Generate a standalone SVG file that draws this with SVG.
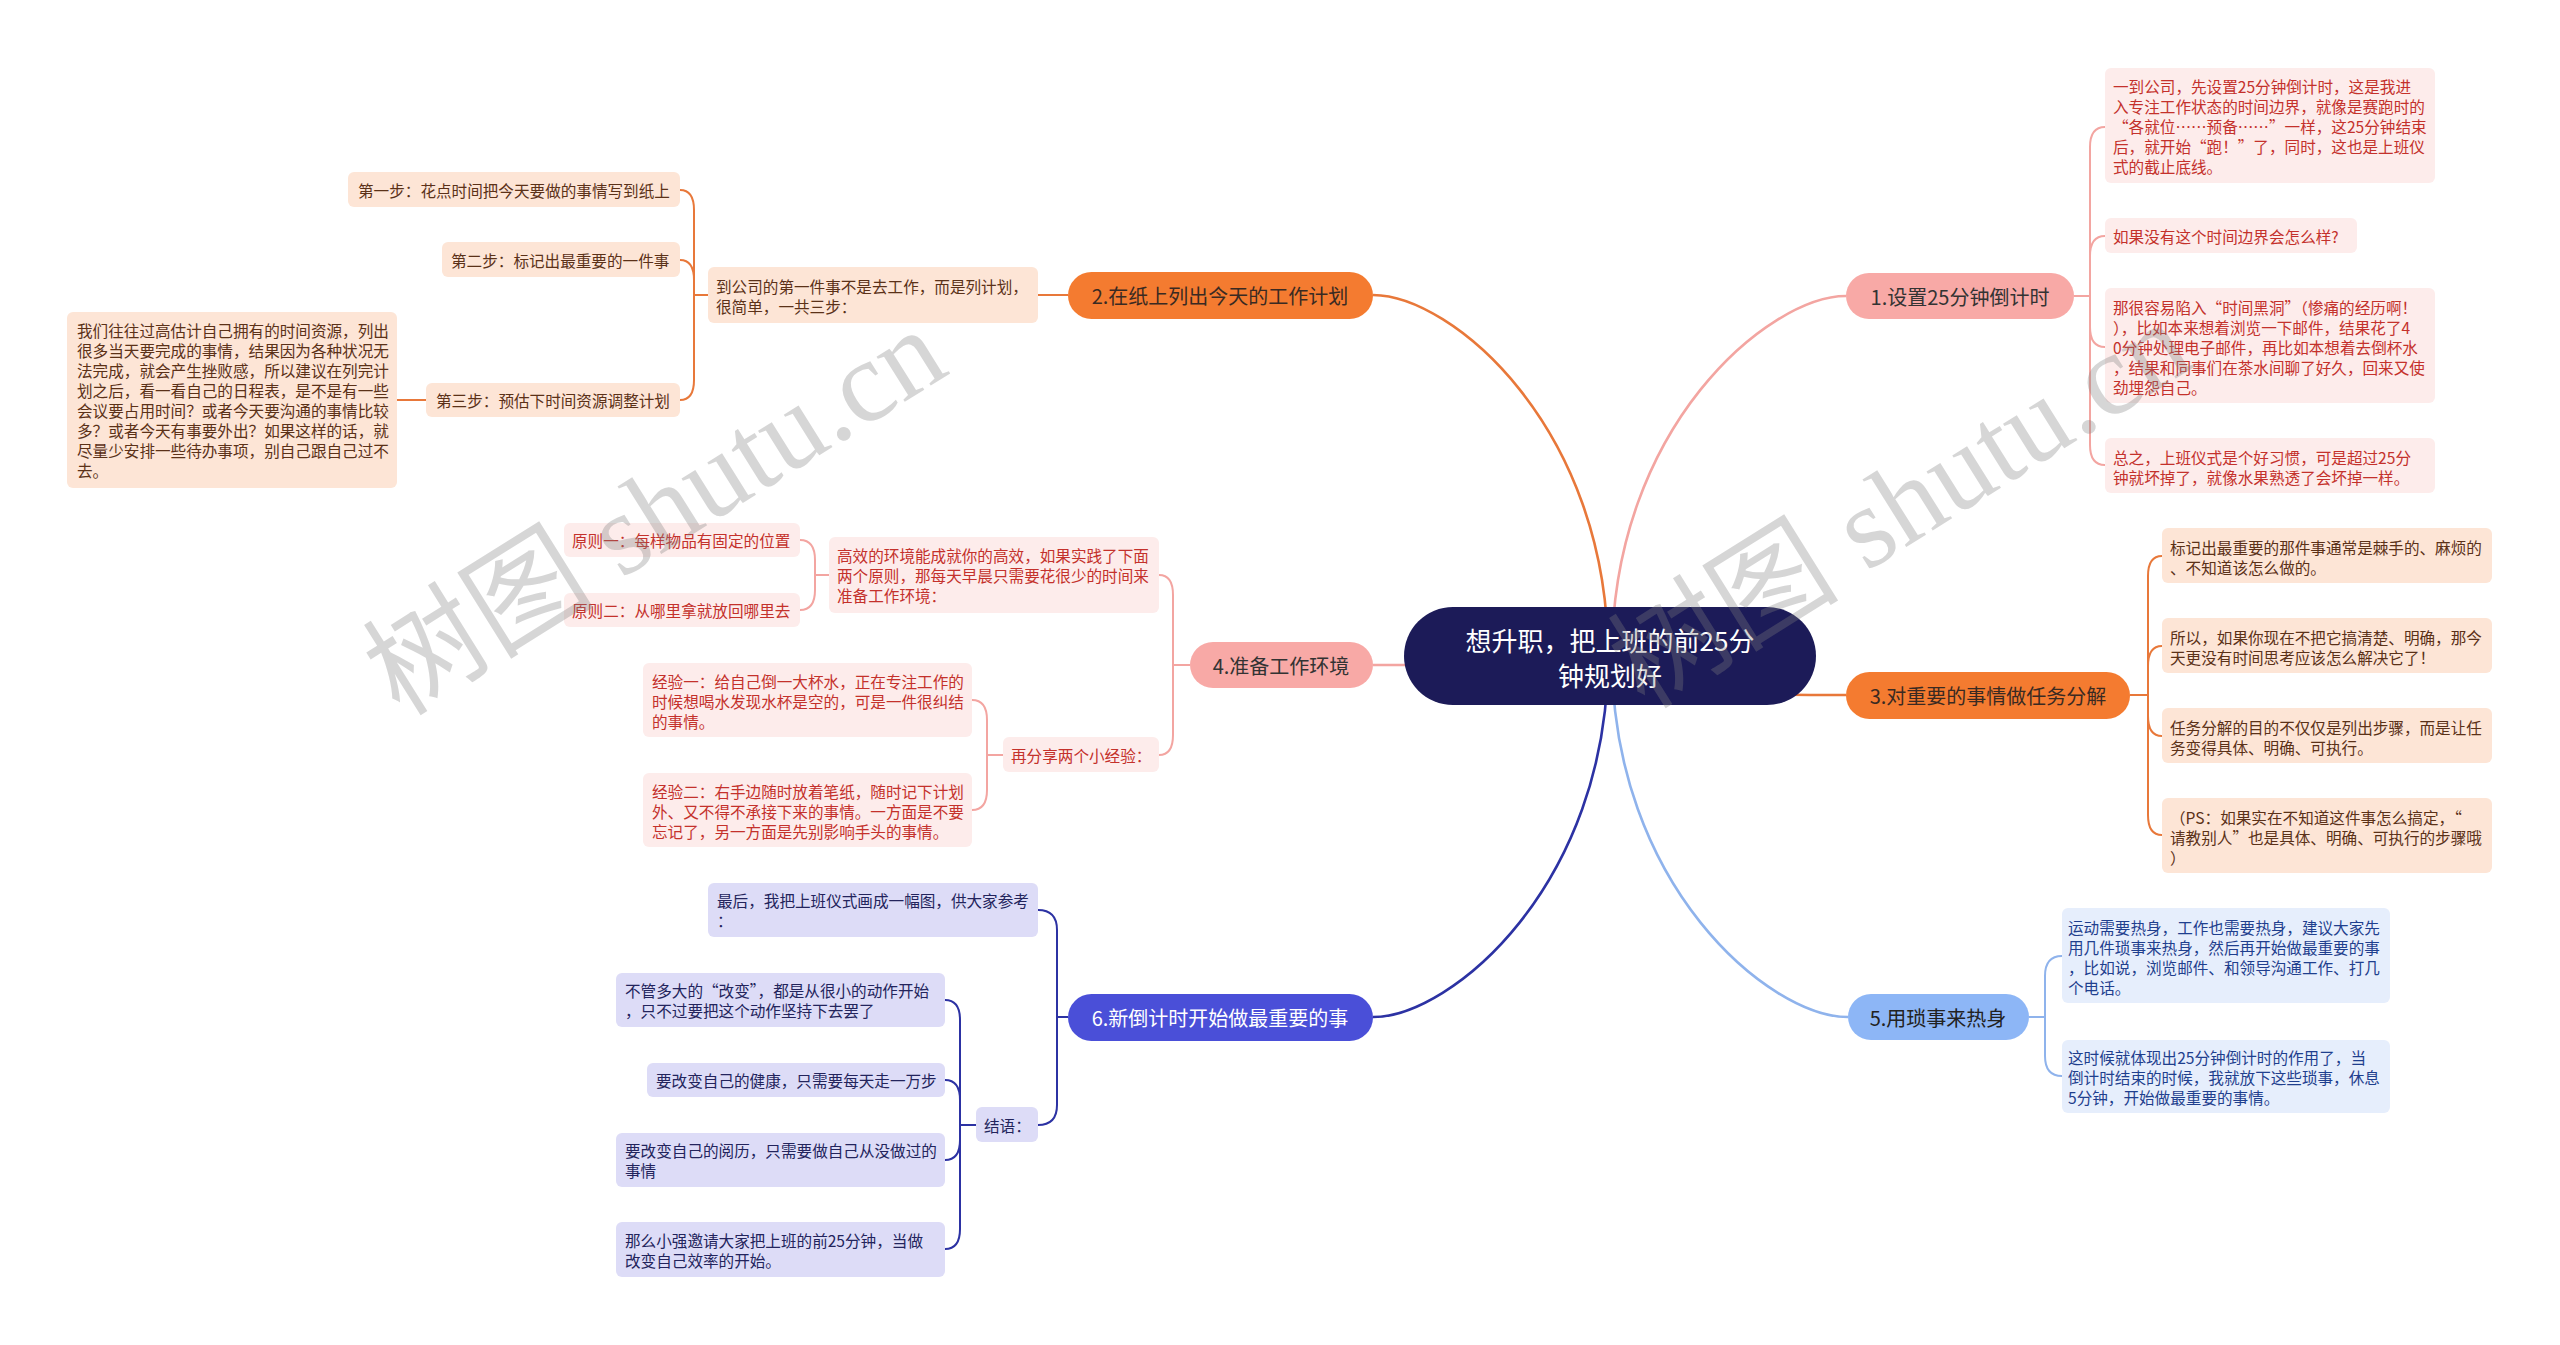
<svg xmlns="http://www.w3.org/2000/svg" width="2560" height="1345" viewBox="0 0 2560 1345">
<style>
text{font-family:"Noto Sans CJK SC","Noto Sans",sans-serif;dominant-baseline:central}
.lf text{font-size:15.6px}
.br text{font-size:20px;text-anchor:middle}
.l1 rect{fill:#fdeceb}.l1 text{fill:#c4312b}
.l2 rect{fill:#fde5d6}.l2 text{fill:#5b3118}
.l5 rect{fill:#e6eefc}.l5 text{fill:#1f3f8e}
.l6 rect{fill:#dddcf7}.l6 text{fill:#23245c}
.e{fill:none;stroke-width:2}
.m{fill:none;stroke-width:2.6}
.pk{stroke:#f3a5a1}.or{stroke:#e8783a}.bl{stroke:#8fb3ec}.nv{stroke:#2c32a3}
.wm{font-family:"Liberation Serif","Noto Sans CJK SC",serif;font-size:116px;fill:#808080;fill-opacity:0.32;text-anchor:middle}
</style>

<g id="connectors">
  <path class="m pk" d="M1612 656 C1612 427 1769 296 1846 296"/>
  <path class="m or" d="M1608 656 C1608 427 1451 295 1373 295"/>
  <path class="m or" d="M1610 660 C1700 695 1760 695 1846 695"/>
  <path class="m pk" d="M1500 665 H1373"/>
  <path class="m bl" d="M1612 656 C1612 885 1769 1017 1848 1017"/>
  <path class="m nv" d="M1608 656 C1608 885 1451 1017 1373 1017"/>

  <path class="e pk" d="M2074 296 H2090 V147 Q2090 127 2105 127"/>
  <path class="e pk" d="M2074 296 H2090 V256 Q2090 236 2105 236"/>
  <path class="e pk" d="M2074 296 H2090 V327 Q2090 347 2105 347"/>
  <path class="e pk" d="M2074 296 H2090 V445 Q2090 465 2105 465"/>

  <path class="e or" d="M2130 695 H2148 V576 Q2148 556 2162 556"/>
  <path class="e or" d="M2130 695 H2148 V666 Q2148 646 2162 646"/>
  <path class="e or" d="M2130 695 H2148 V716 Q2148 736 2162 736"/>
  <path class="e or" d="M2130 695 H2148 V815 Q2148 835 2162 835"/>

  <path class="e bl" d="M2029 1017 H2045 V976 Q2045 956 2062 956"/>
  <path class="e bl" d="M2029 1017 H2045 V1056 Q2045 1076 2062 1076"/>

  <path class="e or" d="M1068 295 H1038"/>
  <path class="e or" d="M708 295 H694 V210 Q694 190 680 190"/>
  <path class="e or" d="M708 295 H694 V280 Q694 260 680 260"/>
  <path class="e or" d="M708 295 H694 V380 Q694 400 680 400"/>
  <path class="e or" d="M426 400 H397"/>

  <path class="e pk" d="M1190 665 H1173 V595 Q1173 575 1159 575"/>
  <path class="e pk" d="M1190 665 H1173 V735 Q1173 755 1159 755"/>
  <path class="e pk" d="M829 575 H815 V560 Q815 540 800 540"/>
  <path class="e pk" d="M829 575 H815 V590 Q815 610 800 610"/>
  <path class="e pk" d="M1003 755 H987 V720 Q987 700 972 700"/>
  <path class="e pk" d="M1003 755 H987 V790 Q987 810 972 810"/>

  <path class="e nv" d="M1068 1017 H1057 V930 Q1057 910 1038 910"/>
  <path class="e nv" d="M1068 1017 H1057 V1105 Q1057 1125 1038 1125"/>
  <path class="e nv" d="M976 1125 H960 V1020 Q960 1000 945 1000"/>
  <path class="e nv" d="M976 1125 H960 V1100 Q960 1080 945 1080"/>
  <path class="e nv" d="M976 1125 H960 V1140 Q960 1160 945 1160"/>
  <path class="e nv" d="M976 1125 H960 V1229 Q960 1249 945 1249"/>
</g>

<g id="root">
  <rect x="1404" y="607" width="412" height="98" rx="49" fill="#1c1b58"/>
  <text x="1610" y="639" font-size="26" fill="#ffffff" text-anchor="middle">想升职，把上班的前25分</text>
  <text x="1610" y="674" font-size="26" fill="#ffffff" text-anchor="middle">钟规划好</text>
</g>

<g class="br">
  <g id="b1"><rect x="1846" y="273" width="228" height="46" rx="23" fill="#f8a9a6"/><text x="1960" y="296" fill="#333333">1.设置25分钟倒计时</text></g>
  <g id="b2"><rect x="1068" y="272" width="305" height="47" rx="23.5" fill="#f47b30"/><text x="1220" y="295" fill="#3a2a22">2.在纸上列出今天的工作计划</text></g>
  <g id="b3"><rect x="1846" y="672" width="284" height="47" rx="23.5" fill="#f47b30"/><text x="1988" y="695" fill="#3a2a22">3.对重要的事情做任务分解</text></g>
  <g id="b4"><rect x="1190" y="642" width="183" height="46" rx="23" fill="#f8a9a6"/><text x="1281" y="665" fill="#333333">4.准备工作环境</text></g>
  <g id="b5"><rect x="1848" y="994" width="181" height="46" rx="23" fill="#8db6f6"/><text x="1938" y="1017" fill="#222222">5.用琐事来热身</text></g>
  <g id="b6"><rect x="1068" y="994" width="305" height="47" rx="23.5" fill="#4a4fd8"/><text x="1220" y="1017" fill="#ffffff">6.新倒计时开始做最重要的事</text></g>
</g>

<g class="lf l1">
  <g id="n1a"><rect x="2105" y="68" width="330" height="115" rx="6"/>
    <text x="2113" y="86">一到公司，先设置25分钟倒计时，这是我进</text>
    <text x="2113" y="106">入专注工作状态的时间边界，就像是赛跑时的</text>
    <text x="2113" y="126"> “各就位……预备……”一样，这25分钟结束</text>
    <text x="2113" y="146">后，就开始“跑！”了，同时，这也是上班仪</text>
    <text x="2113" y="166">式的截止底线。</text></g>
  <g id="n1b"><rect x="2105" y="218" width="252" height="35" rx="6"/>
    <text x="2113" y="236">如果没有这个时间边界会怎么样?</text></g>
  <g id="n1c"><rect x="2105" y="288" width="330" height="115" rx="6"/>
    <text x="2113" y="307">那很容易陷入“时间黑洞”（惨痛的经历啊！</text>
    <text x="2113" y="327">），比如本来想着浏览一下邮件，结果花了4</text>
    <text x="2113" y="347">0分钟处理电子邮件，再比如本想着去倒杯水</text>
    <text x="2113" y="367">，结果和同事们在茶水间聊了好久，回来又使</text>
    <text x="2113" y="387">劲埋怨自己。</text></g>
  <g id="n1d"><rect x="2105" y="438" width="330" height="55" rx="6"/>
    <text x="2113" y="457">总之，上班仪式是个好习惯，可是超过25分</text>
    <text x="2113" y="477">钟就坏掉了，就像水果熟透了会坏掉一样。</text></g>
</g>

<g class="lf l2">
  <g id="n3a"><rect x="2162" y="528" width="330" height="55" rx="6"/>
    <text x="2170" y="547">标记出最重要的那件事通常是棘手的、麻烦的</text>
    <text x="2170" y="567">、不知道该怎么做的。</text></g>
  <g id="n3b"><rect x="2162" y="618" width="330" height="55" rx="6"/>
    <text x="2170" y="637">所以，如果你现在不把它搞清楚、明确，那今</text>
    <text x="2170" y="657">天更没有时间思考应该怎么解决它了！</text></g>
  <g id="n3c"><rect x="2162" y="708" width="330" height="55" rx="6"/>
    <text x="2170" y="727">任务分解的目的不仅仅是列出步骤，而是让任</text>
    <text x="2170" y="747">务变得具体、明确、可执行。</text></g>
  <g id="n3d"><rect x="2162" y="798" width="330" height="75" rx="6"/>
    <text x="2170" y="817">（PS：如果实在不知道这件事怎么搞定，“</text>
    <text x="2170" y="837">请教别人”也是具体、明确、可执行的步骤哦</text>
    <text x="2170" y="857">）</text></g>

  <g id="n2"><rect x="708" y="267" width="330" height="56" rx="6"/>
    <text x="716" y="286">到公司的第一件事不是去工作，而是列计划，</text>
    <text x="716" y="306">很简单，一共三步：</text></g>
  <g id="n2a"><rect x="348" y="172" width="332" height="35" rx="6"/>
    <text x="358" y="190">第一步：花点时间把今天要做的事情写到纸上</text></g>
  <g id="n2b"><rect x="442" y="242" width="238" height="35" rx="6"/>
    <text x="451" y="260">第二步：标记出最重要的一件事</text></g>
  <g id="n2c"><rect x="426" y="383" width="254" height="34" rx="6"/>
    <text x="436" y="400">第三步：预估下时间资源调整计划</text></g>
  <g id="n2d"><rect x="67" y="312" width="330" height="176" rx="6"/>
    <text x="77" y="330">我们往往过高估计自己拥有的时间资源，列出</text>
    <text x="77" y="350">很多当天要完成的事情，结果因为各种状况无</text>
    <text x="77" y="370">法完成，就会产生挫败感，所以建议在列完计</text>
    <text x="77" y="390">划之后，看一看自己的日程表，是不是有一些</text>
    <text x="77" y="410">会议要占用时间？或者今天要沟通的事情比较</text>
    <text x="77" y="430">多？或者今天有事要外出？如果这样的话，就</text>
    <text x="77" y="450">尽量少安排一些待办事项，别自己跟自己过不</text>
    <text x="77" y="470">去。</text></g>
</g>

<g class="lf l1">
  <g id="n4"><rect x="829" y="537" width="330" height="76" rx="6"/>
    <text x="837" y="555">高效的环境能成就你的高效，如果实践了下面</text>
    <text x="837" y="575">两个原则，那每天早晨只需要花很少的时间来</text>
    <text x="837" y="595">准备工作环境：</text></g>
  <g id="n4a"><rect x="564" y="523" width="236" height="34" rx="6"/>
    <text x="572" y="540">原则一：每样物品有固定的位置</text></g>
  <g id="n4b"><rect x="564" y="593" width="236" height="34" rx="6"/>
    <text x="572" y="610">原则二：从哪里拿就放回哪里去</text></g>
  <g id="n4c"><rect x="1003" y="737" width="156" height="35" rx="6"/>
    <text x="1011" y="755">再分享两个小经验：</text></g>
  <g id="n4d"><rect x="643" y="663" width="329" height="74" rx="6"/>
    <text x="652" y="681">经验一：给自己倒一大杯水，正在专注工作的</text>
    <text x="652" y="701">时候想喝水发现水杯是空的，可是一件很纠结</text>
    <text x="652" y="721">的事情。</text></g>
  <g id="n4e"><rect x="643" y="773" width="329" height="74" rx="6"/>
    <text x="652" y="791">经验二：右手边随时放着笔纸，随时记下计划</text>
    <text x="652" y="811">外、又不得不承接下来的事情。一方面是不要</text>
    <text x="652" y="831">忘记了，另一方面是先别影响手头的事情。</text></g>
</g>

<g class="lf l5">
  <g id="n5a"><rect x="2062" y="908" width="328" height="95" rx="6"/>
    <text x="2068" y="927">运动需要热身，工作也需要热身，建议大家先</text>
    <text x="2068" y="947">用几件琐事来热身，然后再开始做最重要的事</text>
    <text x="2068" y="967">，比如说，浏览邮件、和领导沟通工作、打几</text>
    <text x="2068" y="987">个电话。</text></g>
  <g id="n5b"><rect x="2062" y="1040" width="328" height="73" rx="6"/>
    <text x="2068" y="1057">这时候就体现出25分钟倒计时的作用了，当</text>
    <text x="2068" y="1077">倒计时结束的时候，我就放下这些琐事，休息</text>
    <text x="2068" y="1097">5分钟，开始做最重要的事情。</text></g>
</g>

<g class="lf l6">
  <g id="n6a"><rect x="708" y="883" width="330" height="54" rx="6"/>
    <text x="717" y="900">最后，我把上班仪式画成一幅图，供大家参考</text>
    <text x="717" y="920">：</text></g>
  <g id="n6b"><rect x="976" y="1107" width="62" height="35" rx="6"/>
    <text x="984" y="1125">结语：</text></g>
  <g id="n6c"><rect x="616" y="973" width="329" height="54" rx="6"/>
    <text x="625" y="990">不管多大的“改变”，都是从很小的动作开始</text>
    <text x="625" y="1010">，只不过要把这个动作坚持下去罢了</text></g>
  <g id="n6d"><rect x="647" y="1063" width="298" height="34" rx="6"/>
    <text x="656" y="1080">要改变自己的健康，只需要每天走一万步</text></g>
  <g id="n6e"><rect x="616" y="1133" width="329" height="54" rx="6"/>
    <text x="625" y="1150">要改变自己的阅历，只需要做自己从没做过的</text>
    <text x="625" y="1170">事情</text></g>
  <g id="n6f"><rect x="616" y="1222" width="329" height="55" rx="6"/>
    <text x="625" y="1240">那么小强邀请大家把上班的前25分钟，当做</text>
    <text x="625" y="1260">改变自己效率的开始。</text></g>
</g>

<g id="watermark">
  <text class="wm" transform="translate(655 512) rotate(-32)">树图 shutu.cn</text>
  <text class="wm" transform="translate(1900 505) rotate(-32)">树图 shutu.cn</text>
</g>
</svg>
